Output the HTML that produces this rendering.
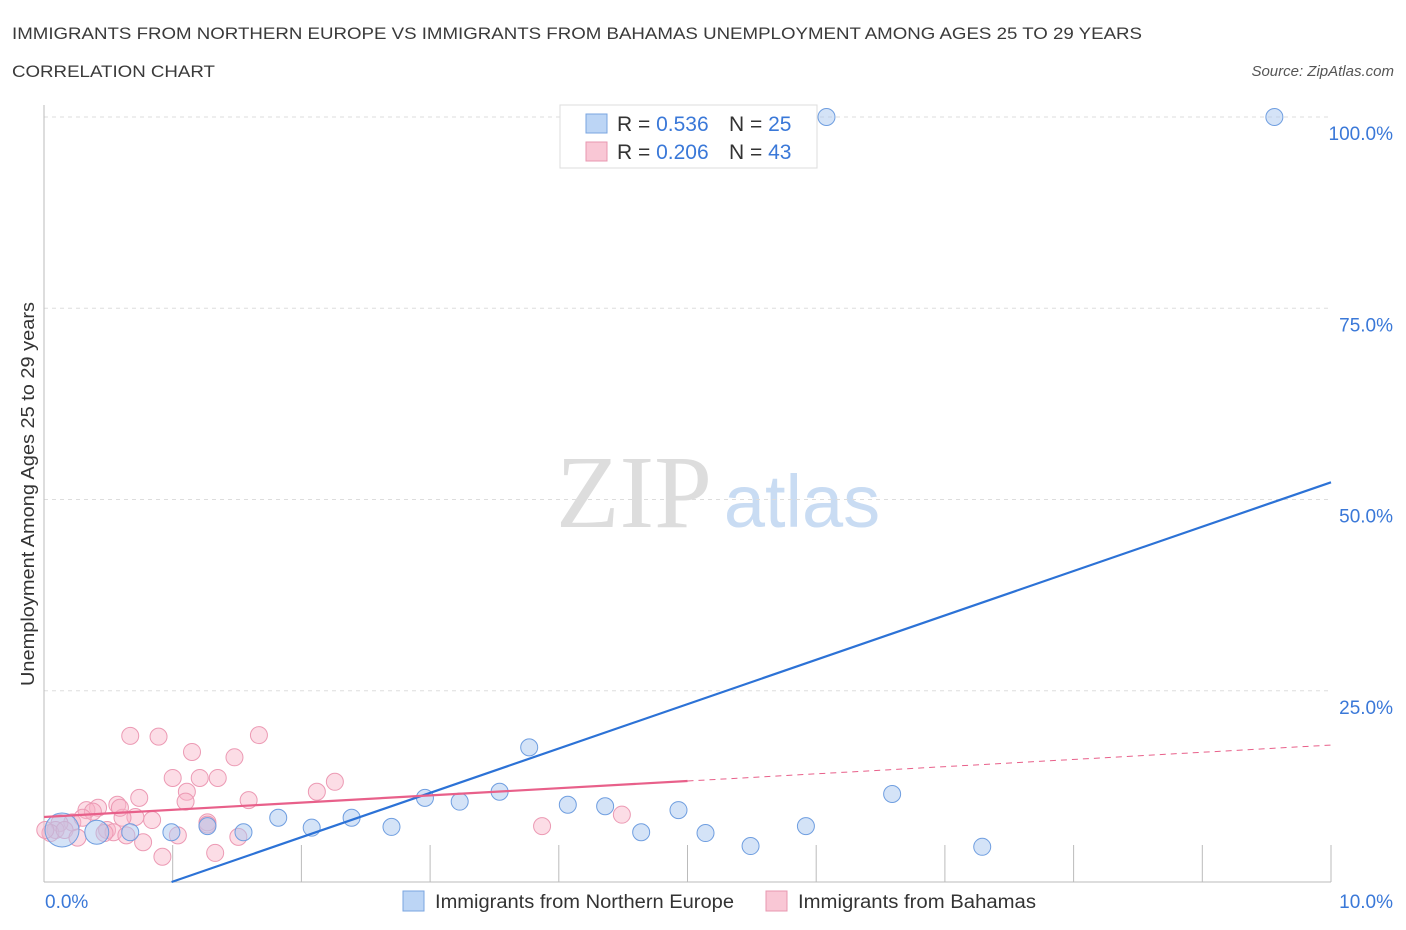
<!DOCTYPE html>
<html><head><meta charset="utf-8"><style>
body{margin:0;background:#fff;font-family:"Liberation Sans",sans-serif;}
svg{display:block}
</style></head><body>
<svg width="1406" height="930" id="chart">
<text x="12" y="39" font-size="17" fill="#3a3a3a" textLength="1130" lengthAdjust="spacingAndGlyphs">IMMIGRANTS FROM NORTHERN EUROPE VS IMMIGRANTS FROM BAHAMAS UNEMPLOYMENT AMONG AGES 25 TO 29 YEARS</text>
<text x="12" y="77" font-size="17" fill="#3a3a3a" textLength="203" lengthAdjust="spacingAndGlyphs">CORRELATION CHART</text>
<text x="1394" y="76" font-size="15" font-style="italic" fill="#555" text-anchor="end">Source: ZipAtlas.com</text>
<text x="0" y="0" transform="translate(34,494) rotate(-90)" font-size="18" fill="#333" text-anchor="middle" textLength="384" lengthAdjust="spacingAndGlyphs">Unemployment Among Ages 25 to 29 years</text>
<g>
<text x="634" y="527" font-size="104" font-family="Liberation Serif,serif" fill="#ddd" text-anchor="middle">ZIP</text>
<text x="802" y="527" font-size="74" fill="#c9dcf3" text-anchor="middle">atlas</text>
</g>
<g id="grid"></g>
<g id="marks"></g>
<g>
<rect x="560" y="105" width="257" height="63" fill="#fff" stroke="#ddd"/>
<rect x="586" y="114" width="21" height="19" fill="#bcd5f5" stroke="#7aa5e0"/>
<rect x="586" y="142" width="21" height="19" fill="#f9c7d5" stroke="#e897b0"/>
<text x="617" y="131" font-size="21" fill="#333">R = <tspan fill="#3a78d8">0.536</tspan><tspan x="729">N = </tspan><tspan fill="#3a78d8">25</tspan></text>
<text x="617" y="159" font-size="21" fill="#333">R = <tspan fill="#3a78d8">0.206</tspan><tspan x="729">N = </tspan><tspan fill="#3a78d8">43</tspan></text>
</g>
<g>
<rect x="403" y="891" width="21" height="20" fill="#bcd5f5" stroke="#7aa5e0"/>
<text x="435" y="908" font-size="19" fill="#333" textLength="299" lengthAdjust="spacingAndGlyphs">Immigrants from Northern Europe</text>
<rect x="766" y="891" width="21" height="20" fill="#f9c7d5" stroke="#e897b0"/>
<text x="798" y="908" font-size="19" fill="#333" textLength="238" lengthAdjust="spacingAndGlyphs">Immigrants from Bahamas</text>
</g>
</svg>
<script>
const xTicks=[0,1,2,3,4,5,6,7,8,9,10];
const yTicks=[25,50,75,100];
const yTickLabels=["25.0%","50.0%","75.0%","100.0%"];
const xEndLabels=["0.0%","10.0%"];
const blueX=[0.14,0.41,0.67,0.99,1.27,1.55,1.82,2.08,2.39,2.70,2.96,3.23,3.54,3.77,4.07,4.36,4.64,4.93,5.14,5.49,5.92,6.59,7.29,6.08,9.56];
const blueY=[6.8,6.5,6.5,6.5,7.3,6.5,8.4,7.1,8.4,7.2,11.0,10.5,11.8,17.6,10.1,9.9,6.5,9.4,6.4,4.7,7.3,11.5,4.6,100,100];
const blueW=[3,2,1,1,1,1,1,1,1,1,1,1,1,1,1,1,1,1,1,1,1,1,1,1,1];
const pinkX=[0.67,0.89,1.15,1.48,1.67,1.00,1.21,1.35,1.11,1.10,1.59,0.74,0.57,0.42,0.33,0.38,0.71,0.84,0.61,1.27,0.22,0.12,0.09,0.05,0.16,0.26,0.49,0.54,0.47,0.64,0.77,1.04,0.92,1.33,1.51,1.27,2.12,2.26,3.87,4.49,0.30,0.59,0.01];
const pinkY=[19.1,19.0,17.0,16.3,19.2,13.6,13.6,13.6,11.8,10.5,10.7,11.0,10.1,9.7,9.4,9.2,8.5,8.1,8.4,7.8,7.8,7.7,6.8,6.4,6.8,5.8,6.8,6.5,6.4,6.1,5.2,6.1,3.3,3.8,5.9,7.5,11.8,13.1,7.3,8.8,8.4,9.7,6.8];
const blueTrend=[-5.75,5.80];
const pinkTrend=[8.5,0.94,5.0];
const X=v=>44+v*128.7, Y=v=>882-v*7.65;
const NS="http://www.w3.org/2000/svg";
function mk(p,t,a){const e=document.createElementNS(NS,t);for(const k in a)e.setAttribute(k,a[k]);p.appendChild(e);return e;}
const grid=document.getElementById('grid'),marks=document.getElementById('marks');
yTicks.forEach((t,i)=>{
 const l=mk(grid,'line',{x1:44,x2:1331,y1:Y(t),y2:Y(t),stroke:'#ddd','stroke-dasharray':'4,4'});
 
 
 const tx=mk(grid,'text',{x:1393,y:Y(t)+23,'font-size':19,fill:'#3a78d8','text-anchor':'end'});tx.textContent=yTickLabels[i];
 
 
});
mk(grid,'line',{x1:44,x2:44,y1:105,y2:882,stroke:'#bbb'});
mk(grid,'line',{x1:44,x2:1331,y1:882,y2:882,stroke:'#bbb'});
xTicks.forEach(t=>{const l=mk(grid,'line',{x1:X(t),x2:X(t),y1:845,y2:882,stroke:'#bbb'});
 
 });
let a=mk(grid,'text',{x:45,y:908,'font-size':19,fill:'#3a78d8'});a.textContent=xEndLabels[0];


a=mk(grid,'text',{x:1393,y:908,'font-size':19,fill:'#3a78d8','text-anchor':'end'});a.textContent=xEndLabels[1];


pinkX.forEach((x,i)=>{const c=mk(marks,'circle',{cx:X(x),cy:Y(pinkY[i]),r:8.5,fill:'rgba(248,180,200,0.45)',stroke:'#ec9ab4','stroke-width':1});
 
 });
blueX.forEach((x,i)=>{const c=mk(marks,'circle',{cx:X(x),cy:Y(blueY[i]),r:[0,8.5,12,17][blueW[i]],fill:'rgba(170,200,240,0.5)',stroke:'#6f9ee0','stroke-width':1});
 
 });
const x0=-blueTrend[0]/blueTrend[1];
let l=mk(marks,'line',{x1:X(x0),y1:Y(0),x2:X(10),y2:Y(blueTrend[0]+blueTrend[1]*10),stroke:'#2c72d6','stroke-width':2.2});


l=mk(marks,'line',{x1:X(0),y1:Y(pinkTrend[0]),x2:X(pinkTrend[2]),y2:Y(pinkTrend[0]+pinkTrend[1]*pinkTrend[2]),stroke:'#e8608a','stroke-width':2.2});


l=mk(marks,'line',{x1:X(pinkTrend[2]),y1:Y(pinkTrend[0]+pinkTrend[1]*pinkTrend[2]),x2:X(10),y2:Y(pinkTrend[0]+pinkTrend[1]*10),stroke:'#e8608a','stroke-width':1,'stroke-dasharray':'6,5'});


</script>
</body></html>
